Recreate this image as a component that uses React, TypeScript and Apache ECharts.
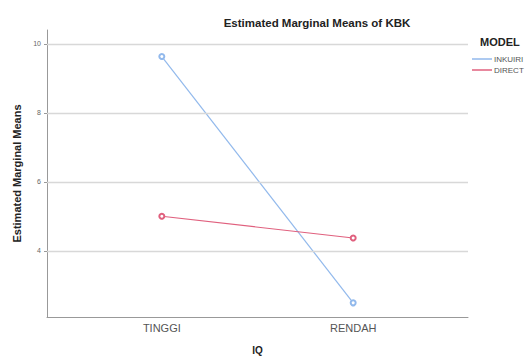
import React, { useEffect, useRef } from "react";
import * as echarts from "echarts";

const categories = ["TINGGI", "RENDAH"];
const seriesNames = ["INKUIRI", "DIRECT"];
const inkuiri = [9.63, 2.49];
const direct = [5.0, 4.37];
const yTicks = [4, 6, 8, 10];

export default function App() {
  const ref = useRef<HTMLDivElement>(null);
  useEffect(() => {
    document.body.style.margin = "0";
    const chart = echarts.init(ref.current!, null, { renderer: "svg" });
    const font = "Liberation Sans, Arial, sans-serif";
    const colors = ["#92b9ec", "#e0607e"];
    chart.setOption({
      animation: false,
      textStyle: { fontFamily: font },
      title: {
        text: "Estimated Marginal Means of KBK",
        left: 312,
        textAlign: "center",
        top: 12,
        textStyle: { fontSize: 11.5, fontWeight: "bold", color: "#222" },
      },
      grid: { left: 47, top: 30, right: 58, bottom: 38 },
      xAxis: {
        type: "value",
        min: -0.6,
        max: 1.6,
        name: "IQ",
        nameLocation: "middle",
        nameGap: 28,
        nameTextStyle: { fontSize: 10, fontWeight: "bold", color: "#222" },
        axisLine: { onZero: false, lineStyle: { color: "#999", width: 1 } },
        axisTick: { show: false },
        splitLine: { show: false },
        axisLabel: {
          customValues: [0, 1],
          formatter: (v: number) => categories[Math.round(v)] ?? "",
          fontSize: 11,
          color: "#555",
          margin: 5,
        },
      },
      yAxis: {
        type: "value",
        min: 2.08,
        max: 10.4,
        name: "Estimated Marginal Means",
        nameLocation: "middle",
        nameGap: 24,
        nameTextStyle: { fontSize: 11, fontWeight: "bold", color: "#222" },
        axisLine: { show: true, onZero: false, lineStyle: { color: "#999", width: 1 } },
        axisTick: { show: true, customValues: yTicks, length: 3, lineStyle: { color: "#999" } },
        axisLabel: { customValues: yTicks, fontSize: 7, color: "#666", margin: 6 },
        splitLine: { show: false },
      },
      legend: {
        orient: "vertical",
        left: 467,
        top: 50,
        itemWidth: 20,
        itemHeight: 1.5,
        itemGap: 3,
        icon: "rect",
        textStyle: { fontSize: 8, color: "#555", padding: [0, 0, 0, -3] },
        data: seriesNames,
      },
      graphic: [
        {
          type: "text",
          left: 480,
          top: 36,
          style: { text: "MODEL", font: `bold 11px ${font}`, fill: "#222" },
        },
      ],
      series: [
        {
          type: "line",
          name: "__grid",
          silent: true,
          data: [],
          markLine: {
            silent: true,
            symbol: "none",
            label: { show: false },
            lineStyle: { color: "#d8d8d8", type: "solid", width: 1.3 },
            data: yTicks.map((v) => ({ yAxis: v })),
          },
        },
        {
          type: "line",
          name: seriesNames[0],
          data: categories.map((_, i) => [i, inkuiri[i]]),
          color: colors[0],
          symbol: "emptyCircle",
          symbolSize: 5,
          lineStyle: { width: 1.2 },
        },
        {
          type: "line",
          name: seriesNames[1],
          data: categories.map((_, i) => [i, direct[i]]),
          color: colors[1],
          symbol: "emptyCircle",
          symbolSize: 5,
          lineStyle: { width: 1.2 },
        },
      ],
    });
    return () => chart.dispose();
  }, []);
  return <div ref={ref} style={{ width: 526, height: 360 }} />;
}
